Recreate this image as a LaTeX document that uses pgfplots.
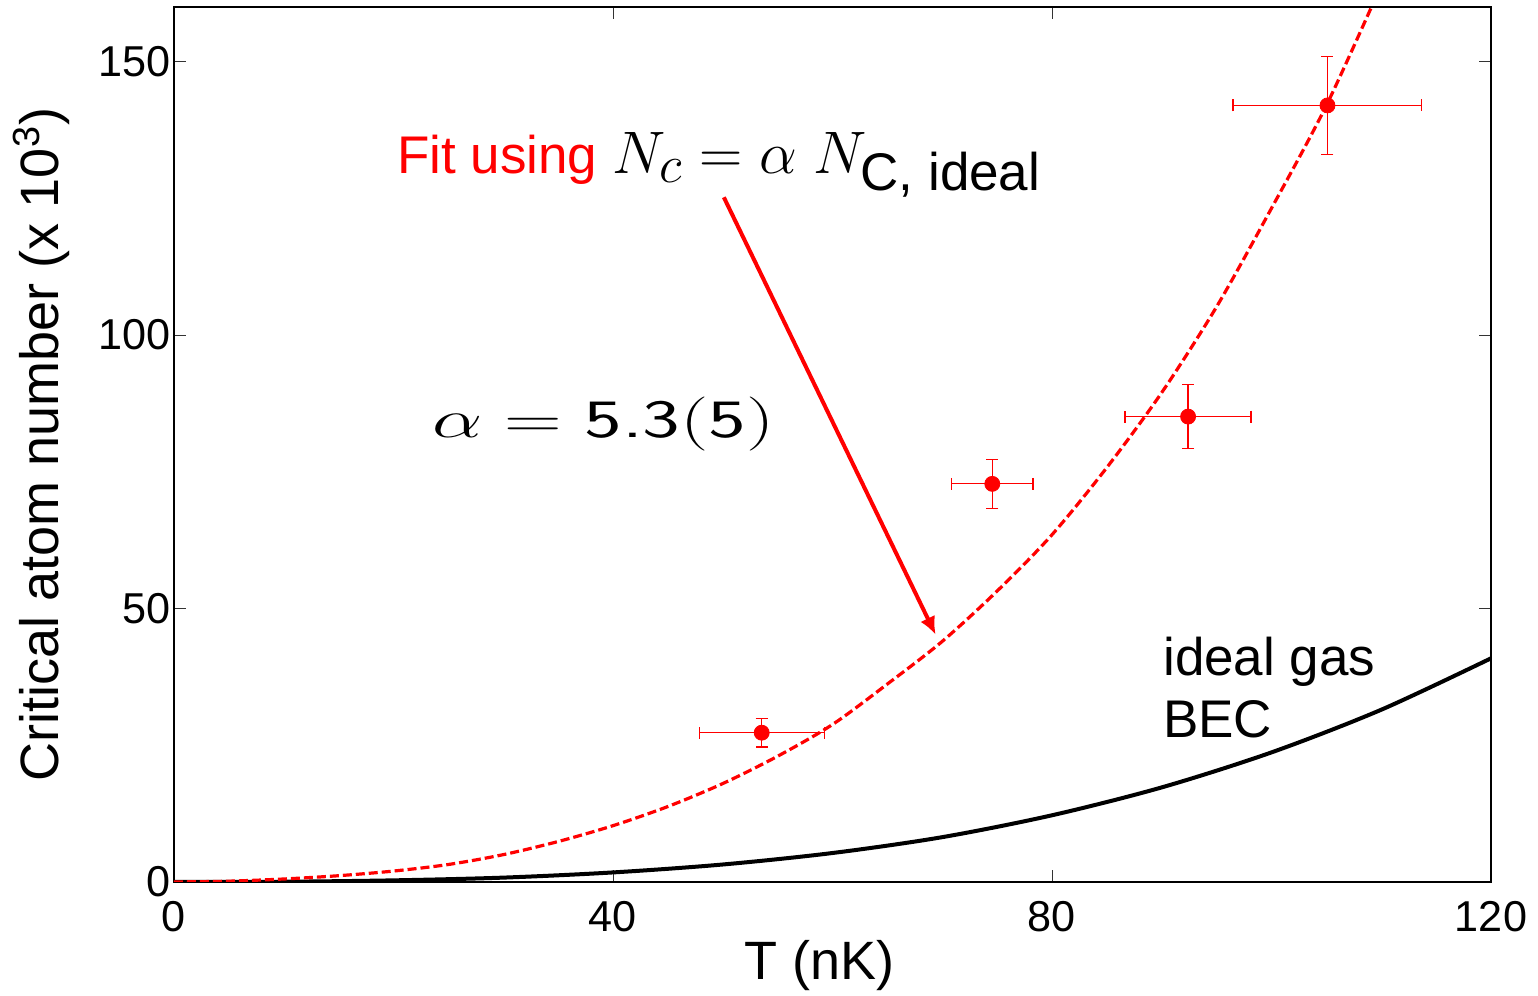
\RequirePackage{fix-cm}
\documentclass[border=0pt]{standalone}
\usepackage{amsmath}
\usepackage[no-math]{fontspec}
\setmainfont{Liberation Sans}
\usepackage{pgfplots}
\pgfplotsset{compat=1.18}
\usetikzlibrary{arrows.meta}

\begin{document}
\begin{tikzpicture}
\useasboundingbox (-87pt,-57pt) rectangle (682pt,441pt);
\begin{axis}[
  scale only axis,
  width=658.5pt, height=437.5pt,
  xmin=0, xmax=120, ymin=0, ymax=160,
  xtick={0,40,80,120}, ytick={0,50,100,150},
  tick align=inside, major tick length=6pt,
  tick style={line width=0.5pt, black!80},
  axis line style={line width=1pt},
  /pgf/number format/assume math mode=true,
  ticklabel style={font=\fontsize{21.6}{26}\selectfont},
  xticklabel style={yshift=-6pt},
  yticklabel style={xshift=2pt},
  xlabel={T (nK)},
  ylabel={Critical atom number (x 10\textsuperscript{3})},
  label style={font=\fontsize{27}{32}\selectfont},
  xlabel style={at={(axis description cs:0.49,-0.096)}, anchor=center},
  ylabel style={at={(axis description cs:-0.1006,0.5)}, anchor=center},
  clip=true,
]
% ideal gas BEC (black)
\addplot[black, line width=2pt, smooth] coordinates {
(0,0) (10,0.05) (20,0.3) (30,0.8) (40,1.75) (50,3.2) (60,5.3) (70,8.2)
(80,12.2) (90,17.3) (100,23.7) (110,31.5) (120,40.9)
};
% fit (red dashed)
\addplot[red, line width=1.6pt, dash pattern=on 4.5pt off 2pt, smooth] coordinates {
(0,0) (5,0.15) (10,0.55) (15,1.15) (20,2.0) (25,3.2) (30,5.0) (35,7.4)
(40,10.3) (45,13.8) (50,18.0) (55,23.0) (60,28.8) (65,36.2) (70,44.0)
(75,53.2) (80,63.5) (85,75.8) (90,89.5) (95,105.2) (100,123.2) (105,142.0)
(110,164.0)
};
% data points
\addplot[red, only marks, mark=*, mark size=3.75pt,
  error bars/.cd, x dir=both, x explicit, y dir=both, y explicit,
  error bar style={line width=0.6pt, red},
  error mark options={rotate=90, red, line width=0.6pt, mark size=3pt}]
coordinates {
(53.55,27.3) +- (5.7,2.6)
(74.56,72.8) +- (3.7,4.5)
(92.4,85.1) +- (5.74,5.85)
(105.1,142.0) +- (8.6,9.0)
};
% annotations
\draw[red, line width=2pt, -{Latex[length=9pt,width=8pt]}]
  (axis cs:50.1,125.2) -- (axis cs:69.4,45.2);
\node[anchor=base west, inner sep=0pt, font=\fontsize{26.5}{30}\selectfont]
  at (axis cs:20.3,129.6)
  {\textcolor{red}{Fit using} {\fontsize{30}{34}\selectfont$N_{\mbox{\fontsize{26.5}{30}\selectfont$c$}} = \alpha\ N_{\mbox{\fontsize{26.5}{30}\selectfont C,\ ideal}}$}};
\node[anchor=west, inner sep=0pt, font=\fontsize{27}{31}\selectfont]
  at (axis cs:23.5,83.7) {\scalebox{1.48}[1]{$\alpha = \textsf{5.3}(\textsf{5})$}};
\node[anchor=west, align=left, inner sep=0pt, font=\fontsize{26.5}{31}\selectfont]
  at (axis cs:90.1,35.5) {ideal gas\\BEC};
\end{axis}
\end{tikzpicture}
\end{document}
